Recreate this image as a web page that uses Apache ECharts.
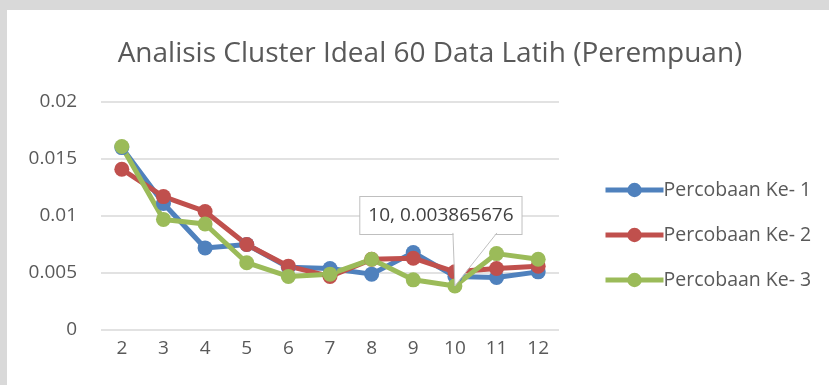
<!DOCTYPE html>
<html>
<head>
<meta charset="utf-8">
<script src="https://cdn.jsdelivr.net/npm/echarts@6/dist/echarts.min.js"></script>
<style>
  html, body { margin: 0; padding: 0; background: #ffffff; }
  #chart { width: 829px; height: 385px; }
</style>
</head>
<body>
<div id="chart"></div>
<script>
// Number of clusters tried
const categories = ['2', '3', '4', '5', '6', '7', '8', '9', '10', '11', '12'];

// Results of each trial run
const percobaan1 = [0.0160, 0.0111, 0.0072, 0.0075, 0.0055, 0.0054, 0.0049, 0.0068, 0.0047, 0.0046, 0.0051];
const percobaan2 = [0.0141, 0.0117, 0.0104, 0.0075, 0.0056, 0.0047, 0.0062, 0.0063, 0.0051, 0.0054, 0.0056];
const percobaan3 = [0.0161, 0.0097, 0.0093, 0.0059, 0.0047, 0.0049, 0.0062, 0.0044, 0.003865676, 0.0067, 0.0062];

const seriesNames = ['Percobaan Ke- 1', 'Percobaan Ke- 2', 'Percobaan Ke- 3'];
const yTicks = [0, 0.005, 0.01, 0.015, 0.02];

// Point carrying the callout
const calloutIndex = 8;

const FONT = 'Open Sans';
const TEXT = '#595959';
const colors = ['#4f81bd', '#c0504d', '#9bbb59'];

const chart = echarts.init(document.getElementById('chart'), null, { renderer: 'canvas' });

const CALLOUT_DX = -14;
const CALLOUT_DY = -70.5;

function lineSeries(name, values, color, withCallout) {
  const data = values.map((v, i) => {
    if (withCallout && i === calloutIndex) {
      return {
        value: v,
        label: {
          show: true,
          position: 'inside',
          offset: [CALLOUT_DX, CALLOUT_DY],
          formatter: categories[i] + ', ' + v,
          fontFamily: FONT,
          fontSize: 19,
          lineHeight: 23,
          color: '#404040',
          backgroundColor: '#ffffff',
          borderColor: '#bfbfbf',
          borderWidth: 1,
          padding: [7, 8, 7, 8]
        }
      };
    }
    return v;
  });
  return {
    name: name,
    type: 'line',
    data: data,
    symbol: 'circle',
    symbolSize: 15,
    lineStyle: { width: 5, color: color },
    itemStyle: { color: color },
    emphasis: { disabled: true },
    animation: false
  };
}

chart.setOption({
  backgroundColor: '#ffffff',
  animation: false,
  title: {
    text: 'Analisis Cluster Ideal 60 Data Latih (Perempuan)',
    left: 425,
    textAlign: 'center',
    top: 35,
    textStyle: { fontFamily: FONT, fontSize: 28, fontWeight: 'normal', color: TEXT }
  },
  legend: {
    orient: 'vertical',
    left: 598,
    top: 175,
    itemWidth: 58,
    itemHeight: 18,
    itemGap: 25,
    data: seriesNames,
    lineStyle: { width: 5 },
    textStyle: { fontFamily: FONT, fontSize: 19.5, color: TEXT, padding: [0, 0, 0, -5] }
  },
  grid: { left: 101, right: 270, top: 102, bottom: 55, containLabel: false },
  xAxis: {
    type: 'category',
    data: categories,
    boundaryGap: true,
    axisLine: { show: false },
    axisTick: { show: false },
    axisLabel: { fontFamily: FONT, fontSize: 19, color: TEXT, margin: 9 }
  },
  yAxis: {
    type: 'value',
    min: yTicks[0],
    max: yTicks[yTicks.length - 1],
    interval: 0.005,
    axisLine: { show: false },
    axisTick: { show: false },
    splitLine: { lineStyle: { color: '#d9d9d9', width: 1.5 } },
    axisLabel: {
      fontFamily: FONT, fontSize: 19, color: TEXT, margin: 24,
      formatter: v => String(parseFloat(v.toFixed(4)))
    }
  },
  series: [
    lineSeries(seriesNames[0], percobaan1, colors[0], false),
    lineSeries(seriesNames[1], percobaan2, colors[1], false),
    lineSeries(seriesNames[2], percobaan3, colors[2], true)
  ]
});

// Page frame and the callout's pointer wedge, placed through the chart's scales
const pt = chart.convertToPixel({ gridIndex: 0 }, [calloutIndex, percobaan3[calloutIndex]]);
const boxBottom = pt[1] + CALLOUT_DY + 18.5;
const wedgeLeft = pt[0] - 2;
const wedgeRight = pt[0] + 42;
chart.setOption({
  graphic: [
    { type: 'rect', zlevel: 1, shape: { x: 0, y: 0, width: 829, height: 10 }, style: { fill: '#d9d9d9' } },
    { type: 'rect', zlevel: 1, shape: { x: 0, y: 0, width: 7, height: 385 }, style: { fill: '#d9d9d9' } },
    {
      type: 'polygon', zlevel: 1,
      shape: { points: [[wedgeLeft + 0.5, boxBottom - 1.5], [wedgeRight - 0.5, boxBottom - 1.5], [pt[0], pt[1]]] },
      style: { fill: '#ffffff' }
    },
    {
      type: 'polyline', zlevel: 1, z: 1,
      shape: { points: [[wedgeLeft, boxBottom - 1], [pt[0], pt[1]], [wedgeRight, boxBottom - 1]] },
      style: { stroke: '#bfbfbf', lineWidth: 1, fill: null }
    }
  ]
});
</script>
</body>
</html>
